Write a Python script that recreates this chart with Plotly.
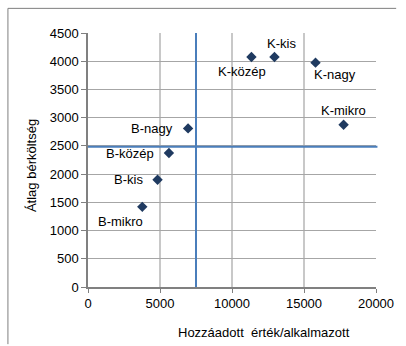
import plotly.graph_objects as go

# Szektor/méret csoportok
labels = ["K-közép", "K-kis", "K-nagy", "K-mikro", "B-nagy", "B-közép", "B-kis", "B-mikro"]
hozzaadott = [11350, 12950, 15800, 17750, 6950, 5620, 4830, 3770]
berkoltseg = [4075, 4075, 3975, 2875, 2810, 2375, 1900, 1420]

# Címkék eltolása a ponthoz képest (px, xanchor)
label_shift = [(-9, -15, "center"), (7, 13, "center"), (19, -12, "center"), (0, 14, "center"),
               (-13, 0, "right"), (-13, -1, "right"), (-13, 0, "right"), (-22, -15, "center")]

# Átlag-referencia vonalak
x_ref = 7500
y_ref = 2485

x_ticks = [0, 5000, 10000, 15000, 20000]
y_ticks = [0, 500, 1000, 1500, 2000, 2500, 3000, 3500, 4000, 4500]

FAMILY = "Liberation Sans, Arial, sans-serif"
font = dict(family=FAMILY, size=13, color="#000000")

fig = go.Figure()
fig.add_trace(go.Scatter(
    x=hozzaadott, y=berkoltseg, mode="markers",
    marker=dict(symbol="diamond", size=8, color="#1f3a60"),
    cliponaxis=False, showlegend=False, hoverinfo="text", hovertext=labels,
))

for lab, xv, yv, (dx, dy, anc) in zip(labels, hozzaadott, berkoltseg, label_shift):
    fig.add_annotation(x=xv, y=yv, xref="x", yref="y", text=lab, showarrow=False,
                       xshift=dx, yshift=dy, xanchor=anc, yanchor="middle", font=font)

# Referencia vonalak
fig.add_shape(type="line", xref="x", yref="paper", x0=x_ref, x1=x_ref, y0=0, y1=1,
              line=dict(color="#4a7ebb", width=2))
fig.add_shape(type="line", xref="paper", yref="y", x0=0, x1=1.005, y0=y_ref, y1=y_ref,
              line=dict(color="#4a7ebb", width=2))

# Külső keret (bal és felső él)
fig.add_shape(type="line", xref="paper", yref="paper", x0=-0.278, x1=1.07, y0=1.097, y1=1.097,
              line=dict(color="#7f7f7f", width=1))
fig.add_shape(type="line", xref="paper", yref="paper", x0=-0.278, x1=-0.278, y0=1.097, y1=-0.225,
              line=dict(color="#7f7f7f", width=1))

fig.add_annotation(text="Hozzáadott  érték/alkalmazott", xref="paper", yref="paper",
                   x=0.61, y=-0.178, showarrow=False, font=font, xanchor="center", yanchor="middle")
fig.add_annotation(text="Átlag bérköltség", xref="paper", yref="paper",
                   x=-0.198, y=0.48, showarrow=False, font=font, textangle=-90,
                   xanchor="center", yanchor="middle")

fig.update_xaxes(range=[0, 20000], tickvals=x_ticks, ticktext=[str(v) for v in x_ticks],
                 showgrid=True, gridcolor="#c8c8c8",
                 gridwidth=2, showline=True, linecolor="#808080", linewidth=1.5,
                 ticks="outside", ticklen=4, tickcolor="#808080", mirror=False,
                 tickfont=font, zeroline=False, fixedrange=True)
fig.update_yaxes(range=[0, 4500], tickvals=y_ticks, ticktext=[str(v) for v in y_ticks],
                 showgrid=True, gridcolor="#a6a6a6",
                 gridwidth=1, showline=True, linecolor="#808080", linewidth=1.5,
                 ticks="outside", ticklen=5, tickcolor="#808080",
                 tickfont=font, zeroline=False, fixedrange=True)

fig.update_layout(
    width=406, height=346,
    margin=dict(l=88, r=23, t=33, b=59),
    plot_bgcolor="#ffffff", paper_bgcolor="#ffffff",
    font=font,
)

fig.write_html("out.html", config={"displayModeBar": False})
